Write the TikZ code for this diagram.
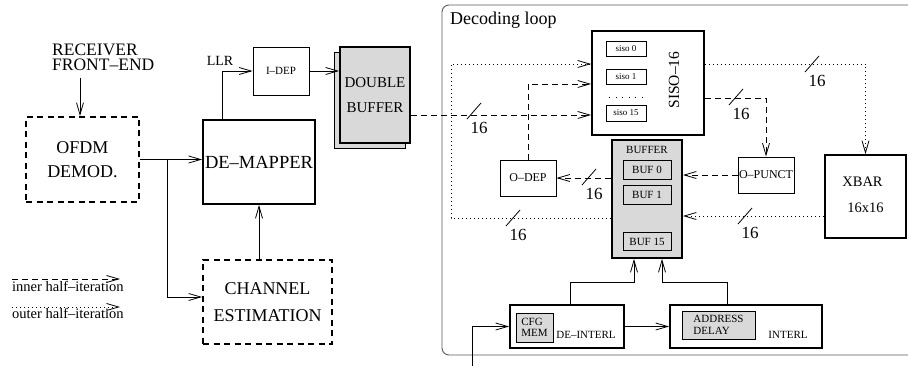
\documentclass[tikz,border=0pt]{standalone}
\usepackage{fontspec}
\setmainfont{Liberation Serif}
\usetikzlibrary{arrows.meta, positioning, calc}
\definecolor{BoxGray}{RGB}{217,217,217}
\definecolor{FrameGray}{RGB}{90,90,90}
\tikzset{
  blk/.style={draw, line width=1.8pt, inner sep=0pt},
  thinblk/.style={draw, line width=0.9pt, inner sep=0pt},
  dashblk/.style={draw, line width=1.8pt, dash pattern=on 6pt off 4.5pt, inner sep=0pt},
  conn/.style={line width=0.8pt, -{Straight Barb[length=12pt,width=7pt]}},
  inner/.style={dash pattern=on 6pt off 4pt},
  outer/.style={dash pattern=on 0.8pt off 3.2pt},
  lbl/.style={inner sep=0pt},
  numlbl/.style={inner sep=0pt, font=\fontsize{17}{17}\selectfont},
}
\newcommand{\busmark}[2]{%
  \coordinate (#1) at (#2);
  \draw[line width=0.8pt] ($(#1)+(-7,8)$) -- ($(#1)+(7,-8)$);
  \node[numlbl] (#1-n) at ($(#1)+(5,17)$) {16};}

\begin{document}
\begin{tikzpicture}[x=1pt, y=-1pt, font=\fontsize{14}{14}\selectfont]
\useasboundingbox (0,0) rectangle (908,371);

\node[lbl, anchor=base west, font=\fontsize{17.5}{17.5}\selectfont] (rx) at (52,56) {RECEIVER};
\node[lbl, anchor=base west, font=\fontsize{17.5}{17.5}\selectfont] (fe) at (52,71) {FRONT–END};
\coordinate (rxout) at (80,78);
\node[dashblk, minimum width=113pt, minimum height=85pt, align=center,
  font=\fontsize{18}{24}\selectfont] (ofdm) at (82.5,159.5) {OFDM\\DEMOD.};
\node[blk, minimum width=112pt, minimum height=84pt, font=\fontsize{18.5}{20}\selectfont] (demap) at (259,162) {DE–MAPPER};
\node[dashblk, minimum width=129pt, minimum height=84pt, align=center,
  font=\fontsize{18}{27}\selectfont] (chest) at (267.5,302) {CHANNEL\\ESTIMATION};
\node[thinblk, minimum width=56pt, minimum height=48pt, font=\fontsize{11}{11}\selectfont] (idep) at (281,71) {I–DEP};
\node[lbl] (llr) at (220,61) {LLR};
\node[thinblk, fill=BoxGray, minimum width=71pt, minimum height=96pt] (dbufback) at (369.5,100.5) {};
\node[blk, fill=BoxGray, minimum width=70pt, minimum height=96pt, align=center,
  font=\fontsize{15}{25}\selectfont] (dbuf) at (375,95) {DOUBLE\\BUFFER};

\draw[line width=0.9pt, draw=FrameGray, rounded corners=7pt] (915,5) -- (442,5) -- (442,355) -- (915,355);
\node[lbl, anchor=base west, font=\fontsize{18}{18}\selectfont] (looplbl) at (450,25) {Decoding loop};

\node[blk, minimum width=112pt, minimum height=104pt] (siso) at (648,83) {};
\node[thinblk, minimum width=40pt, minimum height=15pt, font=\fontsize{9}{9}\selectfont] (siso0) at (626,48.5) {siso 0};
\node[thinblk, minimum width=40pt, minimum height=15pt, font=\fontsize{9}{9}\selectfont] (siso1) at (626,76.5) {siso 1};
\node[thinblk, minimum width=40pt, minimum height=16pt, font=\fontsize{9}{9}\selectfont] (siso15) at (626,113) {siso 15};
\draw[line width=1pt, dash pattern=on 1pt off 5.6pt] (609,98) -- (646,98);
\node[lbl, rotate=90, font=\fontsize{15.5}{15.5}\selectfont] (sisolbl) at (674,80) {SISO–16};

\node[blk, fill=BoxGray, minimum width=70pt, minimum height=118pt] (buffer) at (647,199) {};
\node[lbl, font=\fontsize{11}{11}\selectfont] (buflbl) at (647,150) {BUFFER};
\node[thinblk, minimum width=48pt, minimum height=19pt, font=\fontsize{11}{11}\selectfont] (buf0) at (647,169.5) {BUF 0};
\node[thinblk, minimum width=48pt, minimum height=19pt, font=\fontsize{11}{11}\selectfont] (buf1) at (647,194.5) {BUF 1};
\node[thinblk, minimum width=48pt, minimum height=18pt, font=\fontsize{11}{11}\selectfont] (buf15) at (647,241.5) {BUF 15};

\node[thinblk, minimum width=56pt, minimum height=36pt, font=\fontsize{12}{12}\selectfont] (odep) at (528,178) {O–DEP};
\node[thinblk, minimum width=56pt, minimum height=36pt, font=\fontsize{12}{12}\selectfont] (opunct) at (766,175) {O–PUNCT};

\node[blk, minimum width=81pt, minimum height=83pt] (xbar) at (865.5,196.5) {};
\node[lbl, font=\fontsize{14.5}{14.5}\selectfont] (xbarlbl) at (862.5,182) {XBAR};
\node[lbl, font=\fontsize{14.5}{14.5}\selectfont] (xbarsize) at (865.5,208) {16x16};

\node[blk, minimum width=114pt, minimum height=43pt] (deint) at (567,326.5) {};
\node[thinblk, fill=BoxGray, minimum width=37pt, minimum height=29pt, align=left,
  font=\fontsize{11}{11}\selectfont] (cfg) at (534.5,327.5) {CFG\\MEM};
\node[lbl, anchor=base, font=\fontsize{11}{11}\selectfont] (deintlbl) at (586,339) {DE–INTERL};
\node[blk, minimum width=152pt, minimum height=43pt] (interl) at (746,326.5) {};
\node[thinblk, fill=BoxGray, minimum width=73pt, minimum height=28pt, align=left,
  font=\fontsize{11}{12}\selectfont] (addr) at (718.5,325) {ADDRESS\\DELAY};
\node[lbl, anchor=base, font=\fontsize{11}{11}\selectfont] (interllbl) at (788,339) {INTERL};
\coordinate (deinput) at (472,366);

\node[lbl, anchor=base west, font=\fontsize{14.5}{14.5}\selectfont] (leginner) at (12,292) {inner half–iteration};
\node[lbl, anchor=base west, font=\fontsize{14.5}{14.5}\selectfont] (legouter) at (12,319) {outer half–iteration};
\coordinate (legin-a) at (12,279);
\coordinate (legin-b) at (120,279);
\coordinate (legout-a) at (12,307);
\coordinate (legout-b) at (120,307);
\draw[conn, inner] (legin-a) -- (legin-b);
\draw[conn, outer] (legout-a) -- (legout-b);

\draw[conn] (rxout) -- (rxout |- ofdm.north);
\draw[conn] (ofdm.east) -- (ofdm.east -| demap.west);
\coordinate (split) at ($(ofdm.east)+(27,0)$);
\draw[conn] (split) |- ($(chest.west)+(0,-5)$);
\draw[conn] (chest.north -| demap.south) -- (demap.south);
\draw[conn] ($(demap.north)+(-37,0)$) |- (idep.west);
\draw[conn] (idep.east) -- (idep.east -| dbuf.west);
\coordinate (dbout) at ($(dbuf.east)+(0,20)$);
\draw[conn, inner] (dbout) -- (dbout -| siso.west);

\draw[conn, outer] ($(buffer.west)+(0,19)$) -- ++(-160,0) |- ($(siso.west)+(0,-19)$);
\draw[conn, outer] ($(siso.east)+(0,-19)$) -| (xbar.north);
\draw[conn, inner] ($(siso.east)+(0,15)$) -| (opunct.north);
\draw[conn, inner] (opunct.west) -- (opunct.west -| buffer.east);
\draw[conn, inner] (buffer.west |- odep.east) -- (odep.east);
\draw[conn, inner] (odep.north) |- ($(siso.west)+(0,1)$);
\coordinate (xbout) at ($(xbar.west)+(0,19.5)$);
\draw[conn, outer] (xbout) -- (xbout -| buffer.east);

\draw[conn] (deinput) |- (deint.west);
\draw[conn] (deint.east) -- (interl.west);
\draw[conn] ($(deint.north)+(3,0)$) -- ++(0,-22) -| ($(buffer.south)+(-13,0)$);
\draw[conn] ($(interl.north)+(-19,0)$) -- ++(0,-22) -| ($(buffer.south)+(15,0)$);

\busmark{bm1}{474,111}
\busmark{bm2}{812,64}
\busmark{bm3}{736,97}
\busmark{bm4}{589,177}
\busmark{bm5}{513,218}
\busmark{bm6}{745,216}
\end{tikzpicture}
\end{document}
